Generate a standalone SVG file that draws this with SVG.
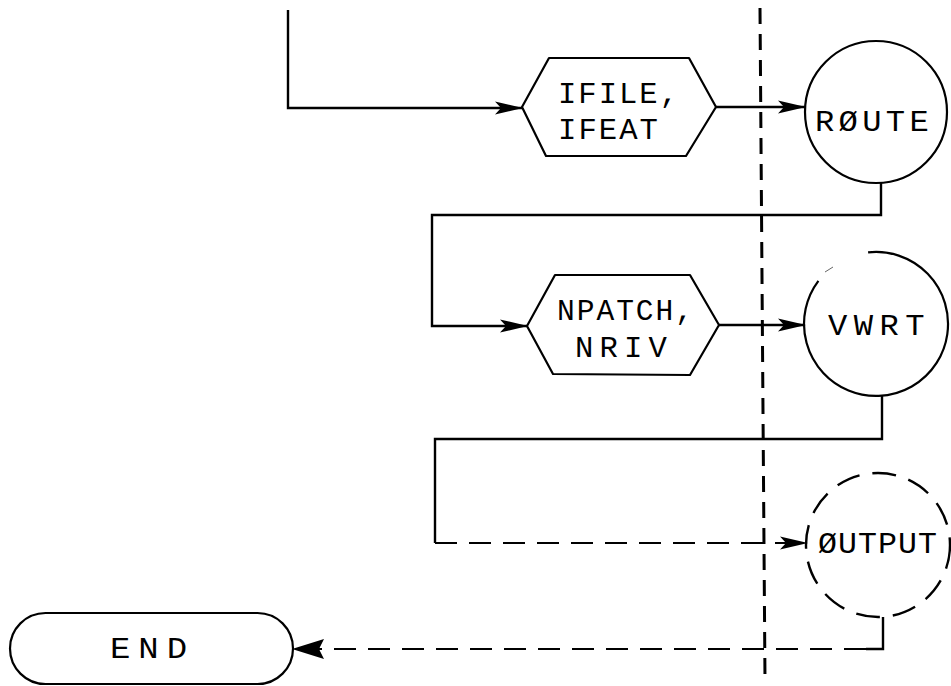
<svg xmlns="http://www.w3.org/2000/svg" width="951" height="686" viewBox="0 0 951 686">
  <style>
    .shape { fill: none; stroke: #000; stroke-width: 2.2; stroke-linejoin: round; }
    .dashed-shape { fill: none; stroke: #000; stroke-width: 2.4; stroke-dasharray: 24 13; }
    .wire { fill: none; stroke: #000; stroke-width: 2.4; stroke-linejoin: miter; }
    .wire-dash { fill: none; stroke: #000; stroke-width: 2.2; stroke-dasharray: 22 12; }
    .guide { fill: none; stroke: #000; stroke-width: 3; stroke-dasharray: 16 10; }
    .label { font-family: "Liberation Mono", "DejaVu Sans Mono", monospace; font-size: 30px; fill: #000; }
  </style>
  <defs>
    <marker id="arrow" markerUnits="userSpaceOnUse" viewBox="0 0 28 14" refX="27" refY="7" markerWidth="28" markerHeight="14" orient="auto">
      <path d="M0,0.5 L28,7 L0,13.5 L6,7 Z" fill="#000"/>
    </marker>
    <marker id="arrow-big" markerUnits="userSpaceOnUse" viewBox="0 0 32 20" refX="31" refY="10" markerWidth="32" markerHeight="20" orient="auto">
      <path d="M0,0 L32,10 L0,20 L5,10 Z" fill="#000"/>
    </marker>
  </defs>

  <rect width="951" height="686" fill="#fff"/>

  <!-- vertical dashed boundary line -->
  <path class="guide" d="M760,8 L765,680"/>

  <g id="connectors">
    <path class="wire" d="M288,10 V108 H522" marker-end="url(#arrow)"/>
    <path class="wire" d="M716,107 H805" marker-end="url(#arrow)"/>
    <path class="wire" d="M881,183 V215 H432 V326 H527" marker-end="url(#arrow)"/>
    <path class="wire" d="M719,325 H805" marker-end="url(#arrow)"/>
    <path class="wire" d="M882,396 V439 H435 V543"/>
    <path class="wire-dash" d="M435,543 H807" marker-end="url(#arrow)"/>
    <path class="wire" d="M883,617 V649 H866"/>
    <path class="wire-dash" d="M866,649 H293" marker-end="url(#arrow-big)"/>
  </g>

  <g id="ifile-ifeat">
    <polygon class="shape" points="522,107 549,58 689,58 716,107 686,156 546,156"/>
    <text class="label" x="558" y="103" letter-spacing="2" textLength="122" lengthAdjust="spacingAndGlyphs">IFILE,</text>
    <text class="label" x="558" y="139" letter-spacing="2" textLength="102" lengthAdjust="spacingAndGlyphs">IFEAT</text>
  </g>

  <g id="route">
    <circle class="shape" cx="876" cy="112" r="71"/>
    <text class="label" x="815" y="131" letter-spacing="4" textLength="118" lengthAdjust="spacingAndGlyphs">RØUTE</text>
  </g>

  <g id="npatch-nriv">
    <polygon class="shape" points="527,326 555,275 690,275 719,325 690,375 553,374"/>
    <text class="label" x="557" y="320" letter-spacing="2" textLength="138" lengthAdjust="spacingAndGlyphs">NPATCH,</text>
    <text class="label" x="575" y="357" letter-spacing="6" textLength="98" lengthAdjust="spacingAndGlyphs">NRIV</text>
  </g>

  <g id="vwrt">
    <path class="shape" d="M868.1,252.4 A72,72 0 1 1 818.4,280.8"/>
    <path d="M825,272 L833,267" stroke="#000" stroke-width="1" opacity="0.6"/>
    <text class="label" x="828" y="335" letter-spacing="6" textLength="103" lengthAdjust="spacingAndGlyphs">VWRT</text>
  </g>

  <g id="output">
    <circle class="dashed-shape" cx="878" cy="545" r="72"/>
    <text class="label" x="818" y="553" letter-spacing="1" textLength="120" lengthAdjust="spacingAndGlyphs">ØUTPUT</text>
  </g>

  <g id="end">
    <rect class="shape" x="10" y="613" width="283" height="71" rx="35.5"/>
    <text class="label" x="110" y="658" letter-spacing="7" textLength="85" lengthAdjust="spacingAndGlyphs">END</text>
  </g>
</svg>
